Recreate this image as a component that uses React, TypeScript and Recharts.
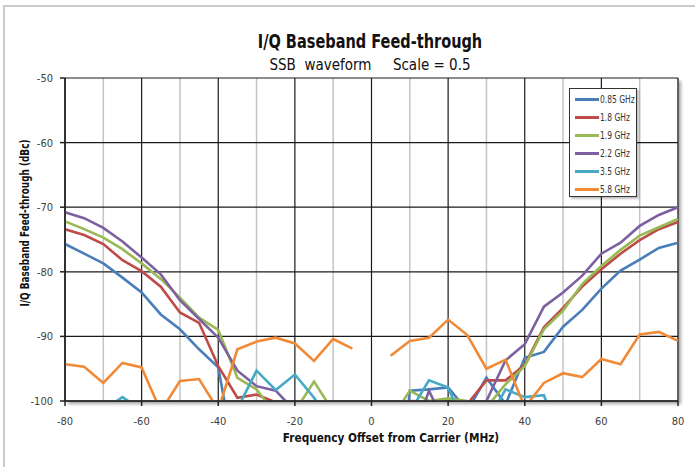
import { LineChart, Line, XAxis, YAxis, CartesianGrid } from "recharts";

const FONT = "'DejaVu Sans Condensed', 'Liberation Sans', sans-serif";

// frequency offsets (MHz)
const freq = [
  -80, -75, -70, -65, -60, -55, -50, -45, -40, -35, -30, -25, -20, -15, -10, -5, 0,
  5, 10, 15, 20, 25, 30, 35, 40, 45, 50, 55, 60, 65, 70, 75, 80,
];

// feed-through (dBc); values under -100 run off the bottom of the plot
const ghz085 = [
  -75.7, -77.2, -78.7, -80.9, -83.2, -86.6, -88.9, -92.0, -94.8, -111, -115, -115, -115, -115, -115, -115, -115,
  -130, -98.4, -98.2, -97.9, -101.5, -96.4, -100.5, -93.3, -92.4, -88.5, -85.9, -82.6, -79.8, -78.1, -76.3, -75.5,
];
const ghz18 = [
  -73.4, -74.3, -75.7, -78.2, -79.9, -82.3, -86.3, -87.9, -94.6, -99.5, -99.0, -100.2, -103, -105, -105, -105, -105,
  -103, -100, -100.1, -99.8, -100.5, -96.8, -96.8, -94.4, -88.6, -85.6, -82.3, -79.6, -77.2, -75.1, -73.4, -72.3,
];
const ghz19 = [
  -72.2, -73.4, -74.7, -76.5, -78.7, -81.1, -84.0, -87.1, -89.0, -96.4, -98.2, -102, -101.6, -97.0, -101.6, -105, -105,
  -103, -98.4, -100, -99.6, -100, -101, -97.4, -94.6, -88.9, -86.0, -81.9, -79.1, -76.6, -74.4, -73.1, -71.8,
];
const ghz22 = [
  -70.8, -71.7, -73.2, -75.3, -77.8, -80.4, -84.4, -87.3, -90.2, -95.3, -97.7, -98.4, -101.5, -105, -105, -105, -105,
  -107, -107, -98.4, -104.6, -101, -100, -93.7, -91.2, -85.4, -83.2, -80.6, -77.2, -75.5, -72.9, -71.2, -70.0,
];
const ghz35 = [
  -105, -105, -101.4, -99.4, -101.4, -105, -105, -105, -105, -101.2, -95.3, -98.3, -95.9, -99.5, -104, -105, -105,
  -105, -101.7, -96.8, -97.9, -104.9, -103.4, -98.2, -99.4, -99.1, -107, -107, -107, -107, -107, -107, -107,
];
const ghz58 = [
  -94.3, -94.7, -97.2, -94.1, -94.8, -101.6, -96.9, -96.6, -101.4, -92.0, -90.8, -90.2, -91.1, -93.8, -90.4, -91.9, null,
  -93.0, -90.7, -90.2, -87.4, -89.8, -95.0, -93.6, -101, -97.2, -95.7, -96.3, -93.5, -94.3, -89.7, -89.3, -90.7,
];

const xTicks = [-80, -60, -40, -20, 0, 20, 40, 60, 80];
const xMinorTicks = [-70, -50, -30, -10, 10, 30, 50, 70];
const yTicks = [-100, -90, -80, -70, -60, -50];

const series = [
  { key: "s085", name: "0.85 GHz", color: "#4a7ebb", values: ghz085 },
  { key: "s18", name: "1.8 GHz", color: "#be4b48", values: ghz18 },
  { key: "s19", name: "1.9 GHz", color: "#98b954", values: ghz19 },
  { key: "s22", name: "2.2 GHz", color: "#7d60a0", values: ghz22 },
  { key: "s35", name: "3.5 GHz", color: "#46aac5", values: ghz35 },
  { key: "s58", name: "5.8 GHz", color: "#f08a37", values: ghz58 },
];

const data = freq.map((f, i) => {
  const row: Record<string, number | null> = { f };
  series.forEach((s) => {
    row[s.key] = s.values[i];
  });
  return row;
});

function LegendBox() {
  return (
    <div
      style={{
        position: "absolute",
        left: 569,
        top: 88,
        width: 66,
        height: 106,
        border: "1.5px solid #333",
        background: "#fff",
        boxShadow: "2px 2px 2px rgba(0,0,0,0.25)",
        fontFamily: FONT,
        fontSize: 10.5,
        color: "#333",
        paddingTop: 1,
        boxSizing: "content-box",
      }}
    >
      {series.map((s) => (
        <div key={s.key} style={{ display: "flex", alignItems: "center", height: 18 }}>
          <div style={{ width: 24, height: 3, background: s.color, marginLeft: 5, flexShrink: 0 }} />
          <span
            style={{
              marginLeft: 1,
              whiteSpace: "nowrap",
              display: "inline-block",
              transform: "scaleX(0.8)",
              transformOrigin: "left center",
            }}
          >
            {s.name}
          </span>
        </div>
      ))}
    </div>
  );
}

export default function App() {
  return (
    <div style={{ position: "absolute", left: 0, top: 0, width: 695, height: 467, background: "#fff", overflow: "hidden" }}>
      <div
        style={{
          position: "absolute",
          left: 3,
          top: 5,
          width: 720,
          height: 500,
          borderTop: "2px solid #cacace",
          borderLeft: "2px solid #cacace",
        }}
      />
      <div
        style={{
          position: "absolute",
          left: 65,
          top: 78,
          width: 613,
          height: 323,
          background: "#fff",
          boxShadow: "3px 3px 3px rgba(0,0,0,0.35)",
        }}
      />
      <div
        style={{
          position: "absolute",
          top: 30,
          width: 740,
          textAlign: "center",
          fontFamily: FONT,
          fontWeight: "bold",
          fontSize: 19,
          color: "#111",
          transform: "scaleX(0.85)",
        }}
      >
        I/Q Baseband Feed-through
      </div>
      <div
        style={{
          position: "absolute",
          top: 56,
          width: 740,
          textAlign: "center",
          fontFamily: FONT,
          fontSize: 15,
          color: "#111",
          whiteSpace: "pre",
        }}
      >
        {"SSB  waveform     Scale = 0.5"}
      </div>
      <div
        style={{
          position: "absolute",
          left: 391,
          top: 430,
          transform: "translateX(-50%) scaleX(0.9)",
          fontFamily: FONT,
          fontWeight: "bold",
          fontSize: 13,
          color: "#111",
          whiteSpace: "nowrap",
        }}
      >
        Frequency Offset from Carrier (MHz)
      </div>
      <div
        style={{
          position: "absolute",
          left: 24,
          top: 223,
          transform: "translate(-50%, -50%) rotate(-90deg) scaleX(0.76)",
          fontFamily: FONT,
          fontWeight: "bold",
          fontSize: 13,
          color: "#111",
          whiteSpace: "nowrap",
        }}
      >
        I/Q Baseband Feed-through (dBc)
      </div>
      <div style={{ position: "absolute", left: 0, top: 0 }}>
        <LineChart width={695} height={467} data={data} margin={{ top: 78, right: 17, left: 0, bottom: 0 }}>
          <XAxis xAxisId="minor" type="number" dataKey="f" domain={[-80, 80]} ticks={xMinorTicks} hide />
          <CartesianGrid xAxisId="minor" horizontal={false} stroke="#c4c4c4" strokeWidth={1.5} />
          <CartesianGrid stroke="#1a1a1a" strokeWidth={1.2} />
          <XAxis
            type="number"
            dataKey="f"
            domain={[-80, 80]}
            ticks={xTicks}
            height={66}
            stroke="#222"
            strokeWidth={1.5}
            tickSize={5}
            tickMargin={11}
            tick={{ fontFamily: FONT, fontSize: 11, fill: "#404040" }}
          />
          <YAxis
            domain={[-100, -50]}
            ticks={yTicks}
            allowDataOverflow
            width={65}
            stroke="#222"
            strokeWidth={1.5}
            tickSize={5}
            tickMargin={7}
            tick={{ fontFamily: FONT, fontSize: 11, fill: "#404040" }}
          />
          {series.map((s) => (
            <Line
              key={s.key}
              dataKey={s.key}
              name={s.name}
              stroke={s.color}
              strokeWidth={2.6}
              dot={false}
              activeDot={false}
              connectNulls={false}
              isAnimationActive={false}
            />
          ))}
        </LineChart>
      </div>
      <LegendBox />
    </div>
  );
}
